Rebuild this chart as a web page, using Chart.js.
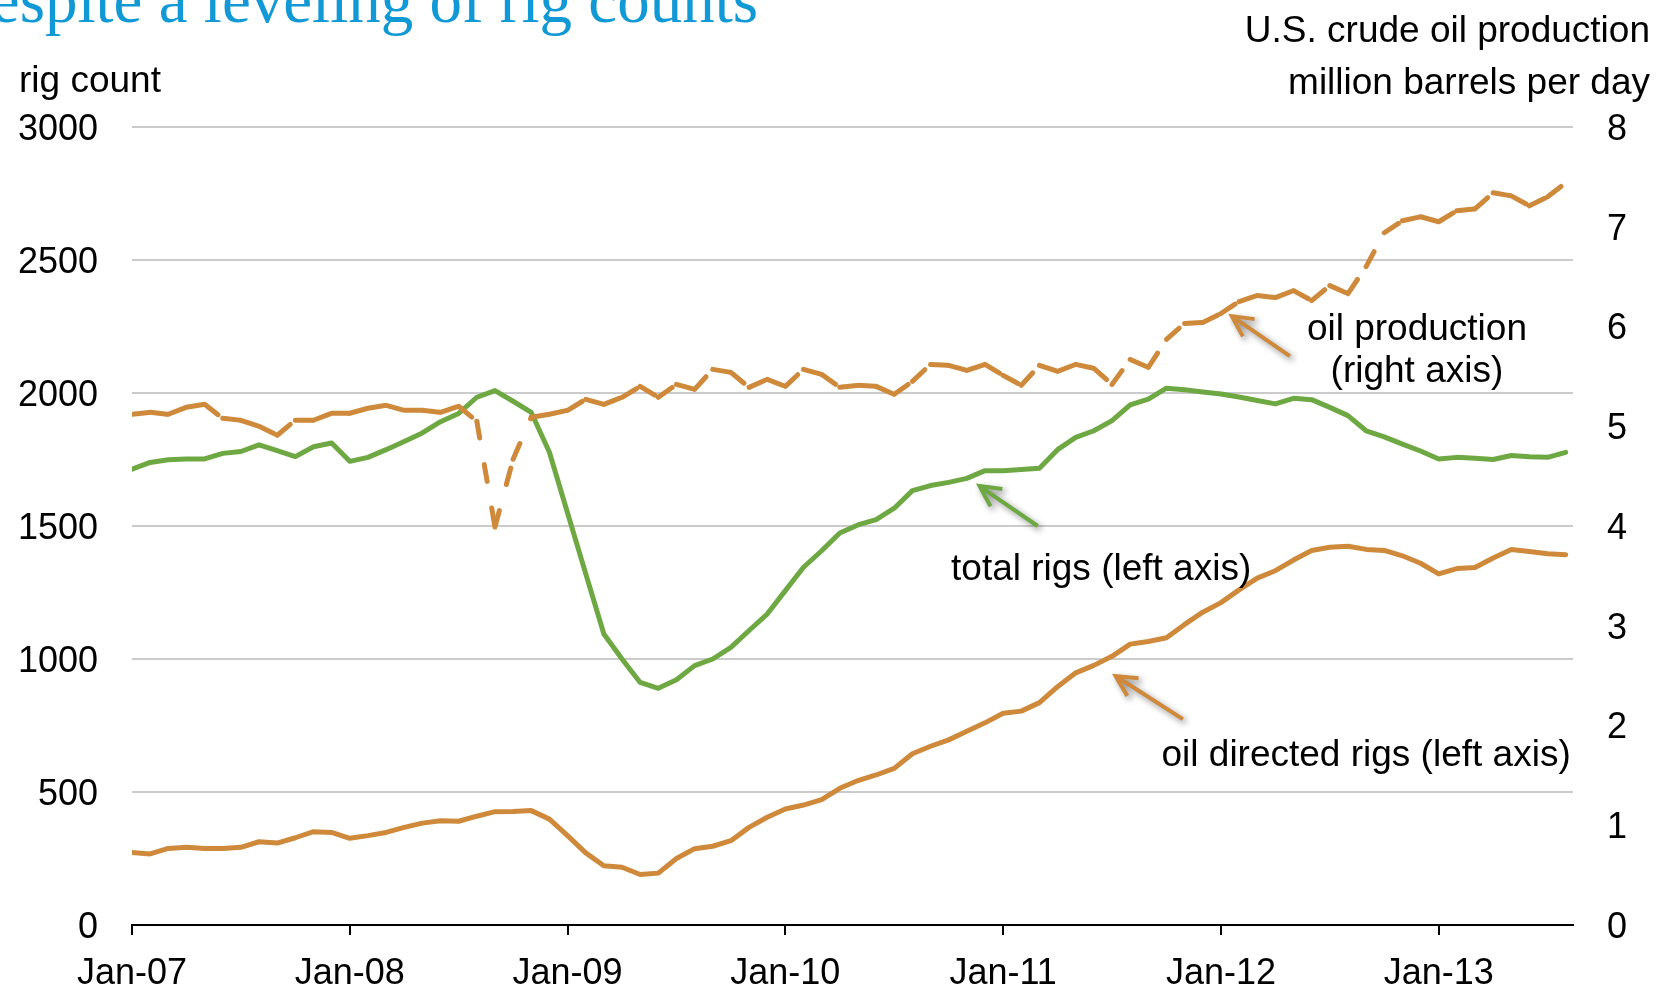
<!DOCTYPE html>
<html>
<head>
<meta charset="utf-8">
<script src="https://cdn.jsdelivr.net/npm/chart.js@4.4.1/dist/chart.umd.min.js"></script>
<style>
html,body{margin:0;padding:0;background:#fff;overflow:hidden}
#wrap{width:1669px;height:997px;position:relative}
</style>
</head>
<body>
<div id="wrap"><canvas id="c" width="1669" height="997"></canvas></div>
<script>
// ---- data (monthly, Jan-2007 .. Aug-2013) ----
const tickLabels = ['Jan-07','Jan-08','Jan-09','Jan-10','Jan-11','Jan-12','Jan-13'];

// U.S. crude oil production, million barrels per day (right axis)
const oilProduction = [
  5.12,5.14,5.12,5.19,5.22,5.08,5.06,5.00,4.91,5.06,5.06,5.13,
  5.13,5.18,5.21,5.16,5.16,5.14,5.20,5.05,3.99,4.67,5.09,5.12,
  5.16,5.27,5.22,5.29,5.40,5.29,5.42,5.37,5.57,5.54,5.39,5.47,
  5.40,5.57,5.52,5.39,5.41,5.40,5.32,5.45,5.62,5.61,5.56,5.62,
  5.51,5.41,5.61,5.55,5.62,5.58,5.42,5.67,5.59,5.87,6.03,6.04,
  6.13,6.25,6.31,6.29,6.36,6.26,6.41,6.33,6.60,6.94,7.06,7.10,
  7.05,7.16,7.18,7.34,7.31,7.21,7.30,7.44
];

// total rigs (left axis)
const totalRigs = [
  1714,1739,1749,1752,1752,1773,1780,1805,1783,1761,1798,1812,
  1743,1758,1787,1818,1850,1892,1923,1984,2009,1969,1927,1777,
  1549,1321,1094,1000,912,890,922,975,1000,1044,1107,1169,
  1257,1345,1407,1474,1504,1524,1567,1633,1652,1664,1679,1708,
  1708,1712,1717,1787,1833,1858,1896,1955,1977,2018,2012,2004,
  1996,1985,1972,1959,1980,1975,1946,1915,1858,1835,1808,1782,
  1752,1758,1755,1750,1765,1760,1758,1777
];

// oil directed rigs (left axis)
const oilDirectedRigs = [
  273,267,288,292,288,288,292,313,308,328,351,348,
  326,336,348,367,383,392,390,409,426,427,430,398,
  336,271,223,217,190,195,250,287,296,317,367,405,
  436,451,471,514,543,564,589,644,672,696,728,760,
  796,804,836,896,948,976,1010,1056,1066,1080,1130,1176,
  1212,1260,1304,1332,1372,1408,1420,1424,1412,1408,1388,1360,
  1320,1340,1344,1380,1412,1404,1396,1392
];

// ---- styling ----
const ORANGE = '#CE893B';
const GREEN = '#6EA843';
const FONT = '"Liberation Sans", Arial, Helvetica, sans-serif';
const SERIF = '"Liberation Serif", "Times New Roman", serif';

const toPoints = arr => arr.map((v, i) => ({x: i, y: v}));

// annotation positions given in data space (x = month index, y = left-axis value)
const notes = [
  {text: 'oil production', x: 70.8, y: 2238},
  {text: '(right axis)', x: 70.8, y: 2080},
  {text: 'total rigs (left axis)', x: 53.4, y: 1336},
  {text: 'oil directed rigs (left axis)', x: 68.0, y: 636}
];
const arrows = [
  {from: [63.8, 2139], to: [60.6, 2289], color: ORANGE},
  {from: [49.9, 1500], to: [46.7, 1650], color: GREEN},
  {from: [57.9, 774],  to: [54.2, 936],  color: ORANGE}
];

function drawArrow(ctx, x1, y1, x2, y2, color) {
  const ang = Math.atan2(y1 - y2, x1 - x2);
  const L = 23, a = 27 * Math.PI / 180;
  ctx.save();
  ctx.strokeStyle = color;
  ctx.lineWidth = 4;
  ctx.lineCap = 'butt';
  ctx.lineJoin = 'miter';
  ctx.shadowColor = 'rgba(0,0,0,0.45)';
  ctx.shadowBlur = 6;
  ctx.shadowOffsetX = 3;
  ctx.shadowOffsetY = 3;
  ctx.beginPath();
  ctx.moveTo(x1, y1);
  ctx.lineTo(x2, y2);
  ctx.moveTo(x2 + L * Math.cos(ang + a), y2 + L * Math.sin(ang + a));
  ctx.lineTo(x2, y2);
  ctx.lineTo(x2 + L * Math.cos(ang - a), y2 + L * Math.sin(ang - a));
  ctx.stroke();
  ctx.restore();
}

const annotPlugin = {
  id: 'annot',
  afterDraw(chart) {
    const {ctx} = chart;
    const xs = chart.scales.x, ys = chart.scales.y;
    ctx.save();
    // slide title (cut at the top of the picture)
    ctx.font = '65px ' + SERIF;
    ctx.fillStyle = '#1199D6';
    ctx.textAlign = 'left';
    ctx.textBaseline = 'alphabetic';
    const title = 'espite a leveling of rig counts';
    const tw = ctx.measureText(title).width;
    ctx.fillText(title, 758 - tw, 22);

    // axis titles
    ctx.fillStyle = '#000';
    ctx.font = '37px ' + FONT;
    ctx.textBaseline = 'middle';
    ctx.textAlign = 'left';
    ctx.fillText('rig count', 19, 82);
    ctx.textAlign = 'right';
    ctx.fillText('U.S. crude oil production', 1650, 32);
    ctx.fillText('million barrels per day', 1650, 84);

    // series notes
    ctx.textAlign = 'center';
    notes.forEach(n => {
      ctx.fillText(n.text, xs.getPixelForValue(n.x), ys.getPixelForValue(n.y));
    });
    ctx.restore();

    arrows.forEach(a => {
      drawArrow(ctx,
        xs.getPixelForValue(a.from[0]), ys.getPixelForValue(a.from[1]),
        xs.getPixelForValue(a.to[0]), ys.getPixelForValue(a.to[1]), a.color);
    });
  }
};

new Chart(document.getElementById('c'), {
  type: 'line',
  data: {
    datasets: [
      {
        label: 'oil production (right axis)',
        data: toPoints(oilProduction),
        yAxisID: 'y1',
        borderColor: ORANGE,
        borderWidth: 5,
        borderCapStyle: 'round',
        borderJoinStyle: 'round',
        pointRadius: 0,
        tension: 0,
        fill: false,
        segment: {
          borderDash: [17, 27],
          // restart the dash pattern at every data point
          borderDashOffset: c => (c.p0DataIndex % 2 ? 0 : 0.0001)
        }
      },
      {
        label: 'total rigs (left axis)',
        data: toPoints(totalRigs),
        yAxisID: 'y',
        borderColor: GREEN,
        borderWidth: 5,
        borderJoinStyle: 'round',
        borderCapStyle: 'round',
        pointRadius: 0,
        tension: 0,
        fill: false
      },
      {
        label: 'oil directed rigs (left axis)',
        data: toPoints(oilDirectedRigs),
        yAxisID: 'y',
        borderColor: ORANGE,
        borderWidth: 5,
        borderJoinStyle: 'round',
        borderCapStyle: 'round',
        pointRadius: 0,
        tension: 0,
        fill: false
      }
    ]
  },
  options: {
    responsive: false,
    animation: false,
    devicePixelRatio: 1,
    layout: {padding: {top: 127, left: 0, right: 0, bottom: 0}},
    plugins: {legend: {display: false}, tooltip: {enabled: false}, title: {display: false}},
    events: [],
    scales: {
      x: {
        type: 'linear',
        min: 0,
        max: 79.4,
        afterBuildTicks: s => { s.ticks = tickLabels.map((_, k) => ({value: k * 12})); },
        afterFit: s => { s.height = 72; },
        ticks: {
          autoSkip: false,
          maxRotation: 0,
          minRotation: 0,
          padding: 17,
          color: '#000',
          font: {family: FONT, size: 36},
          callback: (v, i) => tickLabels[i]
        },
        grid: {drawOnChartArea: false, drawTicks: true, tickLength: 10, color: '#000', lineWidth: 2},
        border: {display: true, color: '#000', width: 2}
      },
      y: {
        position: 'left',
        min: 0,
        max: 3000,
        afterFit: s => { s.width = 132; },
        ticks: {
          stepSize: 500, padding: 34, labelOffset: 3, color: '#000',
          font: {family: FONT, size: 36},
          callback: v => String(v)
        },
        grid: {
          drawTicks: false,
          lineWidth: 2,
          color: c => (c.tick && c.tick.value === 0 ? 'rgba(0,0,0,0)' : '#CBCBCB')
        },
        border: {display: false}
      },
      y1: {
        position: 'right',
        min: 0,
        max: 8,
        afterFit: s => { s.width = 96; },
        ticks: {
          stepSize: 1, padding: 34, labelOffset: 3, color: '#000',
          font: {family: FONT, size: 36},
          callback: v => String(v)
        },
        grid: {drawOnChartArea: false, drawTicks: false},
        border: {display: false}
      }
    }
  },
  plugins: [annotPlugin]
});
</script>
</body>
</html>
